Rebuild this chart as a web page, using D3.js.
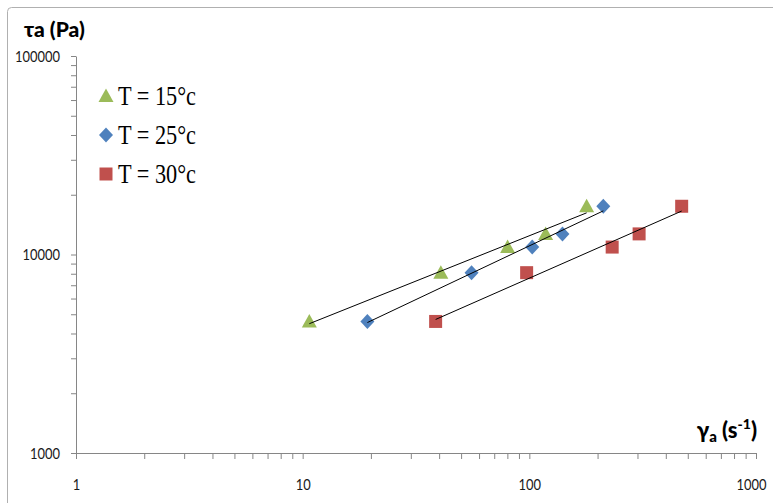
<!DOCTYPE html>
<html>
<head>
<meta charset="utf-8">
<script src="https://cdn.jsdelivr.net/npm/d3@7"></script>
<style>
  body { margin: 0; background: #fff; }
  svg { display: block; }
  .tick text { font-family: Lato, "Open Sans", sans-serif; font-size: 16px; fill: #1a1a1a; }
  .axis path, .axis line { stroke: #868686; }
</style>
</head>
<body>
<svg id="chart" width="773" height="503"></svg>
<script>
// values
var stress = [4600, 8100, 10900, 12700, 17500];       // τa (Pa), same for every series
var rate15 = [10.7, 40.7, 80.2, 118, 179];            // γa (s-1) at T = 15°c
var rate25 = [19.3, 55.6, 103, 140, 212];             // T = 25°c
var rate30 = [38.6, 97.3, 232, 305, 470];             // T = 30°c
var seriesNames = ["T = 15°c", "T = 25°c", "T = 30°c"];
var xTicks = [1, 10, 100, 1000];
var yTicks = [1000, 10000, 100000];

var series = [
  { name: seriesNames[0], rate: rate15, color: "#9BBB59", shape: "triangle" },
  { name: seriesNames[1], rate: rate25, color: "#4F81BD", shape: "diamond" },
  { name: seriesNames[2], rate: rate30, color: "#C0504D", shape: "square" }
];

var svg = d3.select("#chart");

// chart area border
svg.append("rect")
  .attr("x", 7.5).attr("y", 7.5)
  .attr("width", 800).attr("height", 600)
  .attr("rx", 4)
  .attr("fill", "none")
  .attr("stroke", "#b0b0b0");

var x = d3.scaleLog().domain([1, 1000]).range([76, 756]);
var y = d3.scaleLog().domain([1000, 100000]).range([453, 56]);

// every decade tick plus the 2..9 minors
function logTicks(lo, hi) {
  var t = [];
  for (var d = lo; d < hi; d *= 10) {
    for (var k = 1; k < 10; k++) t.push(d * k);
  }
  t.push(hi);
  return t;
}

svg.append("g")
  .attr("class", "axis")
  .attr("transform", "translate(0,453)")
  .call(d3.axisBottom(x)
    .tickValues(logTicks(1, 1000))
    .tickSize(6).tickSizeOuter(0).tickPadding(20)
    .tickFormat(function(d) { return xTicks.indexOf(d) > -1 ? d : ""; }));

svg.append("g")
  .attr("class", "axis")
  .attr("transform", "translate(76,0)")
  .call(d3.axisLeft(y)
    .tickValues(logTicks(1000, 100000))
    .tickSize(5).tickSizeOuter(0).tickPadding(11)
    .tickFormat(function(d) { return yTicks.indexOf(d) > -1 ? d : ""; }));

svg.selectAll(".axis .domain").attr("stroke", "#868686");

// narrow, Calibri-like digits
svg.selectAll(".tick text")
  .filter(function() { return this.textContent.length > 0; })
  .attr("textLength", function() { return this.textContent.length * 7.5; })
  .attr("lengthAdjust", "spacingAndGlyphs");

// last x label sits a bit inside the frame, as in the original
svg.selectAll(".tick text")
  .filter(function(d) { return d === 1000 && this.getAttribute("y") > 0; })
  .attr("dx", -5);

// marker shapes
function markerPath(shape) {
  if (shape == "triangle") return "M0,-7.5L7.5,6L-7.5,6Z";
  if (shape == "diamond") return "M0,-7.5L7,0L0,7.5L-7,0Z";
  return "M-6.5,-6.5H6.5V6.5H-6.5Z";
}

series.forEach(function(s) {
  svg.append("g").selectAll("path")
    .data(s.rate)
    .enter().append("path")
    .attr("d", markerPath(s.shape))
    .attr("transform", function(d, i) { return "translate(" + x(d) + "," + y(stress[i]) + ")"; })
    .attr("fill", s.color);
});

// power-law trend lines (least squares in log-log)
series.forEach(function(s) {
  var lx = s.rate.map(Math.log10), ly = stress.map(Math.log10);
  var mx = d3.mean(lx), my = d3.mean(ly);
  var b = d3.sum(lx, function(v, i) { return (v - mx) * (ly[i] - my); }) /
          d3.sum(lx, function(v) { return (v - mx) * (v - mx); });
  var a = my - b * mx;
  var ends = d3.extent(s.rate);
  svg.append("line")
    .attr("x1", x(ends[0])).attr("y1", y(Math.pow(10, a + b * Math.log10(ends[0]))))
    .attr("x2", x(ends[1])).attr("y2", y(Math.pow(10, a + b * Math.log10(ends[1]))))
    .attr("stroke", "#000")
    .attr("stroke-width", 1);
});

// axis titles
svg.append("text")
  .attr("x", 24).attr("y", 37)
  .attr("font-family", "Lato, sans-serif")
  .attr("font-weight", "900")
  .attr("font-size", 21)
  .attr("fill", "#000")
  .text("τa (Pa)");

var xt = svg.append("text")
  .attr("x", 757).attr("y", 438)
  .attr("text-anchor", "end")
  .attr("font-family", "Lato, sans-serif")
  .attr("font-weight", "900")
  .attr("font-size", 22)
  .attr("fill", "#000");
xt.append("tspan").text("γ");
xt.append("tspan").attr("font-size", 15).attr("dy", 4).text("a");
xt.append("tspan").attr("dy", -4).text(" (s");
xt.append("tspan").attr("font-size", 14).attr("dy", -9).text("-1");
xt.append("tspan").attr("dy", 9).text(")");

// legend
var legend = svg.append("g").selectAll("g")
  .data(series)
  .enter().append("g")
  .attr("transform", function(d, i) { return "translate(106," + (96 + i * 39) + ")"; });

legend.append("path")
  .attr("d", function(d) { return markerPath(d.shape); })
  .attr("fill", function(d) { return d.color; });

legend.append("text")
  .attr("x", 12).attr("y", 9)
  .attr("font-family", "Liberation Serif, Times New Roman, serif")
  .attr("font-size", 27)
  .attr("textLength", 78)
  .attr("lengthAdjust", "spacingAndGlyphs")
  .attr("fill", "#000")
  .text(function(d) { return d.name; });
</script>
</body>
</html>
